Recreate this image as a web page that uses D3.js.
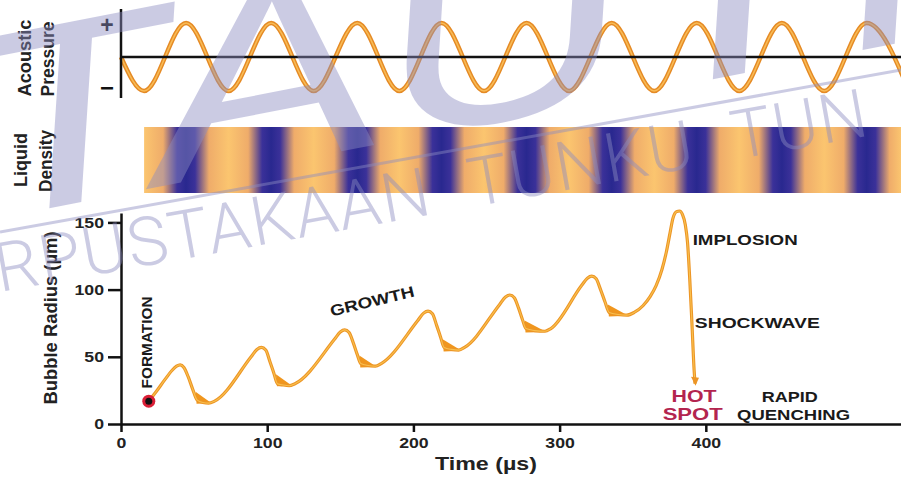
<!DOCTYPE html>
<html>
<head>
<meta charset="utf-8">
<script src="https://cdn.jsdelivr.net/npm/d3@7"></script>
<style>
  body { margin: 0; background: #fff; }
  svg { display: block; font-family: "Liberation Sans", Arial, sans-serif; font-weight: bold; }
</style>
</head>
<body>
<svg id="chart" width="901" height="477"></svg>
<script>
// acoustic pressure: turning points of the driving wave (time in µs, relative amplitude)
const pressureT = [0, 15.8, 44.5, 73.6, 102.7, 131.8, 161.6, 190.4, 219.2, 248.3, 277.4, 306.5, 335.6, 364.7, 393.8, 422.9, 452, 481, 510, 539];
const pressureV = [0, -1, 1, -1, 1, -1, 1, -1, 1, -1, 1, -1, 1, -1, 1, -1, 1, -1, 1, -1];

// bubble radius trace (time µs, radius µm)
const radiusT = [19, 24, 30, 35, 38, 40.5, 43, 46, 49, 52, 56, 60, 64,
  89, 93, 96, 99, 102, 104.5, 107, 111, 115, 119,
  146, 150, 153, 156, 159, 161.5, 164, 169, 174, 178,
  203, 207, 210, 213, 216, 218.5, 221, 226, 231, 235,
  259, 263, 266, 269, 272, 274.5, 277, 283, 290, 294,
  315, 319, 322, 325, 328, 331, 334, 340, 346, 351,
  357, 362, 366, 370, 373, 375.5, 377.5, 380, 382, 384, 386, 387.5, 389, 390.5, 392, 392.6];
const radiusR = [17, 24, 33, 40, 43, 44, 42, 35, 26, 18, 16, 15.5, 17,
  50, 55.5, 57, 55, 46, 38, 30, 29, 28.5, 30,
  63, 68.5, 70, 68, 60, 52, 45, 43.5, 43, 45,
  77, 82.5, 84, 82, 73, 65, 57, 55.5, 55, 57,
  89, 94.5, 96, 94, 86, 78, 71, 69.5, 69, 71,
  103, 108.5, 110, 108, 100, 91, 83, 81.5, 81, 83,
  88, 95, 103, 115, 128, 142, 153, 158, 158.5, 156, 148, 135, 108, 75, 40, 30];

// ringing after each collapse: where it starts, its top, its floor, where it dies out
const ringT = [51, 106, 163, 220, 276, 333];
const ringTop = [24, 37, 51, 63, 77, 89];
const ringFloor = [16, 29, 43, 55, 69, 81];
const ringEnd = [62, 117, 175, 233, 291, 347];

const formation = { t: 19, r: 17 };

const yTicks = [0, 50, 100, 150];
const xTicks = [0, 100, 200, 300, 400];

// annotations (data coords of anchor, text, width in px)
const notes = [
  { text: "IMPLOSION", t: 391, r: 133.3, w: 105, size: 15, anchor: "start", color: "#1a1a1a" },
  { text: "SHOCKWAVE", t: 392.5, r: 71.5, w: 125, size: 15.5, anchor: "start", color: "#1a1a1a" },
  { text: "HOT", t: 392, r: 16.4, w: 45, size: 17, anchor: "middle", color: "#b3254f" },
  { text: "SPOT", t: 391, r: 3, w: 60, size: 17, anchor: "middle", color: "#b3254f" },
  { text: "RAPID", t: 457.5, r: 16.4, w: 56, size: 15, anchor: "middle", color: "#1a1a1a" },
  { text: "QUENCHING", t: 460, r: 3, w: 113, size: 15.4, anchor: "middle", color: "#1a1a1a" }
];

const svg = d3.select("#chart");
const x = d3.scaleLinear().domain([0, 533.5]).range([121, 901]);
const y = d3.scaleLinear().domain([0, 157]).range([424, 213]);
const p = d3.scaleLinear().domain([-1, 1]).range([91, 23]);

// ---------- acoustic pressure ----------
const wave = d3.line().x((d, i) => x(pressureT[i])).y(d => p(d)).curve(d3.curveMonotoneX);
svg.append("path").attr("d", wave(pressureV))
  .attr("fill", "none").attr("stroke", "#e58a25").attr("stroke-width", 4.5);
svg.append("path").attr("d", wave(pressureV))
  .attr("fill", "none").attr("stroke", "#f8bb55").attr("stroke-width", 1.6);

svg.append("line").attr("x1", x(0)).attr("x2", 901).attr("y1", p(0)).attr("y2", p(0))
  .attr("stroke", "#111").attr("stroke-width", 2.5);
svg.append("line").attr("x1", x(0)).attr("x2", x(0)).attr("y1", 9).attr("y2", 98)
  .attr("stroke", "#111").attr("stroke-width", 2.5);
svg.append("text").attr("x", 107).attr("y", 33).attr("text-anchor", "middle")
  .attr("font-size", 23).attr("fill", "#111").text("+");
svg.append("text").attr("x", 107).attr("y", 96).attr("text-anchor", "middle")
  .attr("font-size", 24).attr("fill", "#111").text("\u2212");

// ---------- liquid density band ----------
const bandX0 = x(pressureT[1]);
const bandW = 901 - bandX0;
const grad = svg.append("defs").append("linearGradient").attr("id", "density")
  .attr("gradientUnits", "userSpaceOnUse").attr("x1", bandX0).attr("x2", 901).attr("y1", 0).attr("y2", 0);
const stops = [];
pressureT.forEach((t, i) => {
  if (i === 0) return;
  const cx = x(t);
  if (pressureV[i] > 0) {
    stops.push([cx - 23, "#efac6a"], [cx - 9, "#3b3199"], [cx, "#29288f"], [cx + 9, "#3b3199"], [cx + 23, "#efac6a"]);
  } else {
    stops.push([cx, "#fbc56f"]);
  }
});
stops.filter(s => s[0] >= bandX0 - 30 && s[0] <= 940).forEach(s => {
  grad.append("stop").attr("offset", (s[0] - bandX0) / bandW).attr("stop-color", s[1]);
});
svg.append("rect").attr("x", bandX0).attr("y", 127).attr("width", bandW).attr("height", 66)
  .attr("fill", "url(#density)");

// ---------- bubble radius ----------
const gx = svg.append("g").attr("transform", `translate(0,${y(0)})`)
  .call(d3.axisBottom(x).tickValues(xTicks).tickSize(8).tickPadding(5).tickSizeOuter(0));
const gy = svg.append("g").attr("transform", `translate(${x(0)},0)`)
  .call(d3.axisLeft(y).tickValues(yTicks).tickSize(13).tickPadding(4).tickSizeOuter(0));
[gx, gy].forEach(g => {
  g.select(".domain").attr("stroke", "#111").attr("stroke-width", 2.5);
  g.selectAll(".tick line").attr("stroke", "#111").attr("stroke-width", 2.5);
  g.selectAll(".tick text").attr("fill", "#222").attr("font-size", 14.5)
    .attr("font-family", "Liberation Sans, Arial, sans-serif").attr("font-weight", "bold");
});
gx.selectAll(".tick text").attr("dy", "0.78em");

// ringing wedges
svg.selectAll(".ring").data(ringT).join("path").attr("class", "ring")
  .attr("d", (t, i) => `M${x(t)},${y(ringTop[i])}L${x(t) + 1},${y(ringFloor[i] - 1)}L${x(ringEnd[i])},${y(ringFloor[i] - 0.5)}Z`)
  .attr("fill", "#f0961e");

const trace = d3.line().x((d, i) => x(radiusT[i])).y(d => y(d)).curve(d3.curveMonotoneX);
svg.append("path").attr("d", trace(radiusR))
  .attr("fill", "none").attr("stroke", "#ec9526").attr("stroke-width", 3.2).attr("stroke-linejoin", "round");
svg.append("path").attr("d", trace(radiusR))
  .attr("fill", "none").attr("stroke", "#f9c04e").attr("stroke-width", 1.1);

// arrow head at the end of the collapse
const n = radiusT.length - 1;
const tipX = x(radiusT[n]), tipY = y(radiusR[n]) + 2;
svg.append("path").attr("d", `M${tipX - 4},${tipY - 9}L${tipX + 4},${tipY - 8}L${tipX + 0.5},${tipY}Z`)
  .attr("fill", "#ec9526");

// formation dot
svg.append("circle").attr("cx", x(formation.t)).attr("cy", y(formation.r)).attr("r", 6.5).attr("fill", "#d91f36");
svg.append("circle").attr("cx", x(formation.t)).attr("cy", y(formation.r)).attr("r", 3.5).attr("fill", "#111");

// ---------- labels ----------
function vlabel(text, bx, cy, len, size) {
  svg.append("text").attr("transform", `translate(${bx},${cy}) rotate(-90)`)
    .attr("text-anchor", "middle").attr("font-size", size).attr("fill", "#222")
    .attr("textLength", len).attr("lengthAdjust", "spacingAndGlyphs").text(text);
}
vlabel("Acoustic", 31, 58, 77, 18);
vlabel("Pressure", 54, 59, 75, 18);
vlabel("Liquid", 27, 160, 54, 18);
vlabel("Density", 52, 161, 62, 18);
vlabel("Bubble Radius (\u00b5m)", 57, 318, 173, 18);

svg.append("text").attr("transform", `translate(${x(21.5)},${y(26.5)}) rotate(-90)`)
  .attr("font-size", 15).attr("fill", "#1a1a1a").attr("textLength", 92)
  .attr("lengthAdjust", "spacingAndGlyphs").text("FORMATION");

svg.append("text").attr("transform", `translate(${x(172.6)},${y(87.5)}) rotate(-13.5)`)
  .attr("text-anchor", "middle").attr("font-size", 15.5).attr("fill", "#1a1a1a")
  .attr("textLength", 86).attr("lengthAdjust", "spacingAndGlyphs").text("GROWTH");

svg.selectAll(".note").data(notes).join("text").attr("class", "note")
  .attr("x", d => x(d.t)).attr("y", d => y(d.r)).attr("text-anchor", d => d.anchor)
  .attr("font-size", d => d.size).attr("fill", d => d.color)
  .attr("textLength", d => d.w).attr("lengthAdjust", "spacingAndGlyphs").text(d => d.text);

svg.append("text").attr("x", 486).attr("y", 470).attr("text-anchor", "middle")
  .attr("font-size", 18).attr("fill", "#222").attr("textLength", 102)
  .attr("lengthAdjust", "spacingAndGlyphs").text("Time  (\u00b5s)");

// tick labels in the figure are set wide
svg.selectAll(".tick text").each(function () {
  const w = this.getComputedTextLength();
  d3.select(this).attr("textLength", w * 1.22).attr("lengthAdjust", "spacingAndGlyphs");
});

// ---------- library watermark ----------
const wm = svg.append("g").attr("fill", "#8c8cc0").attr("fill-opacity", 0.45)
  .attr("font-weight", "normal").attr("pointer-events", "none");
wm.append("text").attr("transform", "translate(-22,222) rotate(-11) scale(1.35,1)")
  .attr("font-size", 260).attr("font-style", "italic").text("TAUTH");
wm.append("line").attr("x1", 0).attr("y1", 232).attr("x2", 901).attr("y2", 70)
  .attr("stroke", "#8c8cc0").attr("stroke-opacity", 0.45).attr("stroke-width", 3);
wm.append("text").attr("transform", "translate(0,292) rotate(-10.2)")
  .attr("x", -84).attr("font-size", 68).attr("font-family", "Roboto, sans-serif")
  .attr("font-weight", 300).attr("letter-spacing", 1.5).attr("word-spacing", 22)
  .text("PERPUSTAKAAN TUNKU TUN AMINAH");
</script>
</body>
</html>
